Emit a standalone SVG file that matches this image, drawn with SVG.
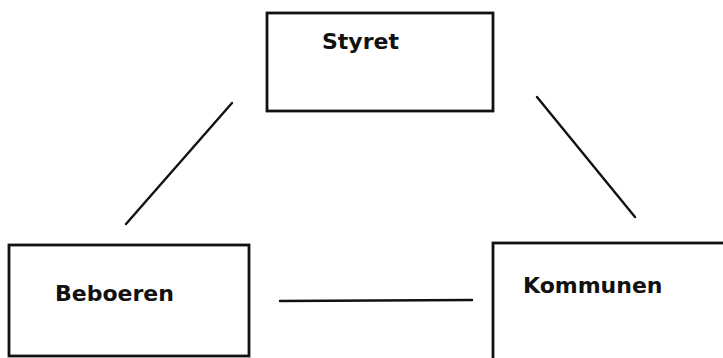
<svg xmlns="http://www.w3.org/2000/svg" width="723" height="358" viewBox="0 0 723 358">
  <style>
    .box { fill: #ffffff; stroke: #111111; stroke-width: 2.8; }
    .label { font-family: "DejaVu Sans", "Liberation Sans", sans-serif; font-weight: bold; font-size: 22px; fill: #111111; }
    .link { stroke: #111111; stroke-width: 2.4; stroke-linecap: round; fill: none; }
  </style>
  <rect width="723" height="358" fill="#ffffff"/>

  <!-- top box -->
  <g id="styret">
    <rect class="box" x="267" y="13" width="226" height="98"/>
    <text class="label" x="322" y="49">Styret</text>
  </g>

  <!-- bottom-left box (lower edge runs along the page bottom) -->
  <g id="beboeren">
    <rect class="box" x="9" y="245" width="240" height="111"/>
    <text class="label" x="55" y="301">Beboeren</text>
  </g>

  <!-- bottom-right box, runs off the right edge -->
  <g id="kommunen">
    <rect class="box" x="493" y="243" width="240" height="120"/>
    <text class="label" x="523" y="293">Kommunen</text>
  </g>

  <g id="connectors">
    <line class="link" x1="232" y1="103" x2="126" y2="224"/>
    <line class="link" x1="537" y1="97" x2="635" y2="217"/>
    <line class="link" x1="280" y1="301" x2="472" y2="300"/>
  </g>
</svg>
